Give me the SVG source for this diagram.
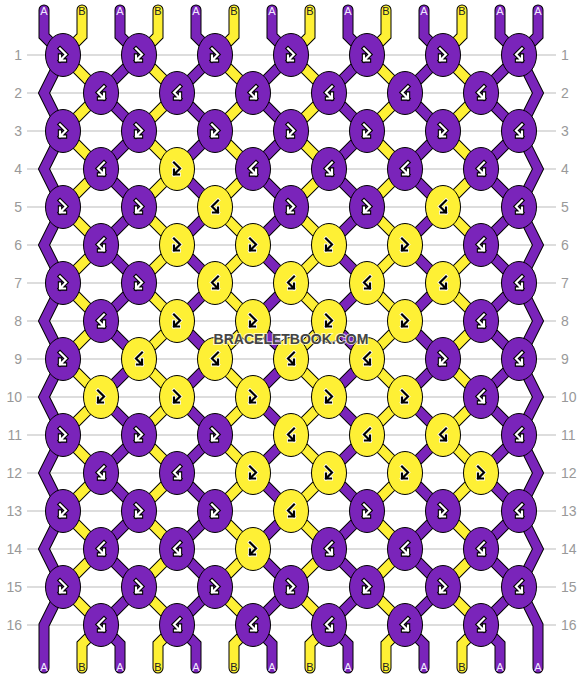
<svg xmlns="http://www.w3.org/2000/svg" xmlns:xlink="http://www.w3.org/1999/xlink" width="582" height="680" viewBox="0 0 582 680">
<style>
.grid{stroke:#bbb;stroke-width:1}
.num{font-family:"Liberation Sans",Arial,sans-serif;font-size:14px;fill:#999}
.l{text-anchor:end}
.o{fill:none;stroke:#000;stroke-width:11;stroke-linejoin:miter;stroke-miterlimit:4;stroke-linecap:round}
.sp{fill:none;stroke:#7a24ba;stroke-width:9;stroke-linejoin:miter;stroke-miterlimit:4;stroke-linecap:round}
.sy{fill:none;stroke:#fef035;stroke-width:9;stroke-linejoin:miter;stroke-miterlimit:4;stroke-linecap:round}
.kp{fill:#7a24ba;stroke:#000;stroke-width:1}
.ky{fill:#fef035;stroke:#000;stroke-width:1}
.gob{fill:none;stroke:#000;stroke-width:4.4;stroke-linejoin:miter;stroke-linecap:square}
.giw{fill:none;stroke:#fff;stroke-width:2.2;stroke-linejoin:miter;stroke-linecap:square}
.gow{fill:none;stroke:#fff;stroke-width:3.8;stroke-linejoin:miter;stroke-linecap:square}
.gik{fill:none;stroke:#000;stroke-width:2.2;stroke-linejoin:miter;stroke-linecap:square}
.lab{font-family:"Liberation Sans",Arial,sans-serif;font-size:11px;text-anchor:middle}
.la{fill:#f2eaff}
.lb{fill:#222}
.wm{font-family:"Liberation Sans",Arial,sans-serif;font-size:14px;font-weight:bold;fill:#444;stroke:#fff;stroke-width:2;stroke-opacity:0.7;paint-order:stroke;text-anchor:middle}
</style>
<defs>
<path id="se" d="M0,10 V36 L19,55 L-19,93 L19,131 L-19,169 L19,207 L-19,245 L19,283 L-19,321 L19,359 L-19,397 L19,435 L-19,473 L19,511 L-19,549 L19,587 L-19,625 L0,644 V668"/>
<path id="so" d="M0,10 V36 L-19,55 L19,93 L-19,131 L19,169 L-19,207 L19,245 L-19,283 L19,321 L-19,359 L19,397 L-19,435 L19,473 L-19,511 L19,549 L-19,587 L19,625 L0,644 V668"/>
<path id="sl" d="M0,10 V36 L19,55 L0,93 L19,131 L0,169 L19,207 L0,245 L19,283 L0,321 L19,359 L0,397 L19,435 L0,473 L19,511 L0,549 L19,587 L0,625 V668"/>
<path id="sr" d="M0,10 V36 L-19,55 L0,93 L-19,131 L0,169 L-19,207 L0,245 L-19,283 L0,321 L-19,359 L0,397 L-19,435 L0,473 L-19,511 L0,549 L-19,587 L0,625 V668"/>
<path id="fb" d="M-3,-6.5 L3,-0.5 L-3,5.5 M-3,0.5 L-3,5.5 L2,5.5"/>
<path id="bf" d="M3,-6.5 L-3,-0.5 L3,5.5 M3,0.5 L3,5.5 L-2,5.5"/>
<g id="fw"><use xlink:href="#fb" class="gob"/><use xlink:href="#fb" class="giw"/></g>
<g id="bw"><use xlink:href="#bf" class="gob"/><use xlink:href="#bf" class="giw"/></g>
<g id="fk"><use xlink:href="#fb" class="gow"/><use xlink:href="#fb" class="gik"/></g>
<g id="bk"><use xlink:href="#bf" class="gow"/><use xlink:href="#bf" class="gik"/></g>
</defs>
<rect width="582" height="680" fill="#fff"/>
<g id="grid">
<line class="grid" x1="27" y1="55" x2="556" y2="55"/>
<line class="grid" x1="27" y1="93" x2="556" y2="93"/>
<line class="grid" x1="27" y1="131" x2="556" y2="131"/>
<line class="grid" x1="27" y1="169" x2="556" y2="169"/>
<line class="grid" x1="27" y1="207" x2="556" y2="207"/>
<line class="grid" x1="27" y1="245" x2="556" y2="245"/>
<line class="grid" x1="27" y1="283" x2="556" y2="283"/>
<line class="grid" x1="27" y1="321" x2="556" y2="321"/>
<line class="grid" x1="27" y1="359" x2="556" y2="359"/>
<line class="grid" x1="27" y1="397" x2="556" y2="397"/>
<line class="grid" x1="27" y1="435" x2="556" y2="435"/>
<line class="grid" x1="27" y1="473" x2="556" y2="473"/>
<line class="grid" x1="27" y1="511" x2="556" y2="511"/>
<line class="grid" x1="27" y1="549" x2="556" y2="549"/>
<line class="grid" x1="27" y1="587" x2="556" y2="587"/>
<line class="grid" x1="27" y1="625" x2="556" y2="625"/>
</g>
<g id="row-numbers">
<text class="num l" x="22" y="60">1</text><text class="num" x="561" y="60">1</text>
<text class="num l" x="22" y="98">2</text><text class="num" x="561" y="98">2</text>
<text class="num l" x="22" y="136">3</text><text class="num" x="561" y="136">3</text>
<text class="num l" x="22" y="174">4</text><text class="num" x="561" y="174">4</text>
<text class="num l" x="22" y="212">5</text><text class="num" x="561" y="212">5</text>
<text class="num l" x="22" y="250">6</text><text class="num" x="561" y="250">6</text>
<text class="num l" x="22" y="288">7</text><text class="num" x="561" y="288">7</text>
<text class="num l" x="22" y="326">8</text><text class="num" x="561" y="326">8</text>
<text class="num l" x="22" y="364">9</text><text class="num" x="561" y="364">9</text>
<text class="num l" x="22" y="402">10</text><text class="num" x="561" y="402">10</text>
<text class="num l" x="22" y="440">11</text><text class="num" x="561" y="440">11</text>
<text class="num l" x="22" y="478">12</text><text class="num" x="561" y="478">12</text>
<text class="num l" x="22" y="516">13</text><text class="num" x="561" y="516">13</text>
<text class="num l" x="22" y="554">14</text><text class="num" x="561" y="554">14</text>
<text class="num l" x="22" y="592">15</text><text class="num" x="561" y="592">15</text>
<text class="num l" x="22" y="630">16</text><text class="num" x="561" y="630">16</text>
</g>
<g id="connectors">
<g id="strand-outlines">
<use xlink:href="#sl" x="44" class="o"/>
<use xlink:href="#so" x="82" class="o"/>
<use xlink:href="#se" x="120" class="o"/>
<use xlink:href="#so" x="158" class="o"/>
<use xlink:href="#se" x="196" class="o"/>
<use xlink:href="#so" x="234" class="o"/>
<use xlink:href="#se" x="272" class="o"/>
<use xlink:href="#so" x="310" class="o"/>
<use xlink:href="#se" x="348" class="o"/>
<use xlink:href="#so" x="386" class="o"/>
<use xlink:href="#se" x="424" class="o"/>
<use xlink:href="#so" x="462" class="o"/>
<use xlink:href="#se" x="500" class="o"/>
<use xlink:href="#sr" x="538" class="o"/>
</g>
<g id="strand-colours">
<use xlink:href="#sl" x="44" class="sp"/>
<use xlink:href="#so" x="82" class="sy"/>
<use xlink:href="#se" x="120" class="sp"/>
<use xlink:href="#so" x="158" class="sy"/>
<use xlink:href="#se" x="196" class="sp"/>
<use xlink:href="#so" x="234" class="sy"/>
<use xlink:href="#se" x="272" class="sp"/>
<use xlink:href="#so" x="310" class="sy"/>
<use xlink:href="#se" x="348" class="sp"/>
<use xlink:href="#so" x="386" class="sy"/>
<use xlink:href="#se" x="424" class="sp"/>
<use xlink:href="#so" x="462" class="sy"/>
<use xlink:href="#se" x="500" class="sp"/>
<use xlink:href="#sr" x="538" class="sp"/>
</g>
</g>
<g id="knots">
<!-- row 1 -->
<g id="k1-1"><ellipse class="kp" cx="63" cy="55" rx="17.5" ry="21.5"/><use xlink:href="#fw" x="63" y="55"/></g>
<g id="k1-2"><ellipse class="kp" cx="139" cy="55" rx="17.5" ry="21.5"/><use xlink:href="#fw" x="139" y="55"/></g>
<g id="k1-3"><ellipse class="kp" cx="215" cy="55" rx="17.5" ry="21.5"/><use xlink:href="#fw" x="215" y="55"/></g>
<g id="k1-4"><ellipse class="kp" cx="291" cy="55" rx="17.5" ry="21.5"/><use xlink:href="#fw" x="291" y="55"/></g>
<g id="k1-5"><ellipse class="kp" cx="367" cy="55" rx="17.5" ry="21.5"/><use xlink:href="#fw" x="367" y="55"/></g>
<g id="k1-6"><ellipse class="kp" cx="443" cy="55" rx="17.5" ry="21.5"/><use xlink:href="#fw" x="443" y="55"/></g>
<g id="k1-7"><ellipse class="kp" cx="519" cy="55" rx="17.5" ry="21.5"/><use xlink:href="#bw" x="519" y="55"/></g>
<!-- row 2 -->
<g id="k2-1"><ellipse class="kp" cx="101" cy="93" rx="17.5" ry="21.5"/><use xlink:href="#bw" x="101" y="93"/></g>
<g id="k2-2"><ellipse class="kp" cx="177" cy="93" rx="17.5" ry="21.5"/><use xlink:href="#bw" x="177" y="93"/></g>
<g id="k2-3"><ellipse class="kp" cx="253" cy="93" rx="17.5" ry="21.5"/><use xlink:href="#bw" x="253" y="93"/></g>
<g id="k2-4"><ellipse class="kp" cx="329" cy="93" rx="17.5" ry="21.5"/><use xlink:href="#bw" x="329" y="93"/></g>
<g id="k2-5"><ellipse class="kp" cx="405" cy="93" rx="17.5" ry="21.5"/><use xlink:href="#bw" x="405" y="93"/></g>
<g id="k2-6"><ellipse class="kp" cx="481" cy="93" rx="17.5" ry="21.5"/><use xlink:href="#bw" x="481" y="93"/></g>
<!-- row 3 -->
<g id="k3-1"><ellipse class="kp" cx="63" cy="131" rx="17.5" ry="21.5"/><use xlink:href="#fw" x="63" y="131"/></g>
<g id="k3-2"><ellipse class="kp" cx="139" cy="131" rx="17.5" ry="21.5"/><use xlink:href="#fw" x="139" y="131"/></g>
<g id="k3-3"><ellipse class="kp" cx="215" cy="131" rx="17.5" ry="21.5"/><use xlink:href="#fw" x="215" y="131"/></g>
<g id="k3-4"><ellipse class="kp" cx="291" cy="131" rx="17.5" ry="21.5"/><use xlink:href="#fw" x="291" y="131"/></g>
<g id="k3-5"><ellipse class="kp" cx="367" cy="131" rx="17.5" ry="21.5"/><use xlink:href="#fw" x="367" y="131"/></g>
<g id="k3-6"><ellipse class="kp" cx="443" cy="131" rx="17.5" ry="21.5"/><use xlink:href="#fw" x="443" y="131"/></g>
<g id="k3-7"><ellipse class="kp" cx="519" cy="131" rx="17.5" ry="21.5"/><use xlink:href="#bw" x="519" y="131"/></g>
<!-- row 4 -->
<g id="k4-1"><ellipse class="kp" cx="101" cy="169" rx="17.5" ry="21.5"/><use xlink:href="#bw" x="101" y="169"/></g>
<g id="k4-2"><ellipse class="ky" cx="177" cy="169" rx="17.5" ry="21.5"/><use xlink:href="#fk" x="177" y="169"/></g>
<g id="k4-3"><ellipse class="kp" cx="253" cy="169" rx="17.5" ry="21.5"/><use xlink:href="#bw" x="253" y="169"/></g>
<g id="k4-4"><ellipse class="kp" cx="329" cy="169" rx="17.5" ry="21.5"/><use xlink:href="#bw" x="329" y="169"/></g>
<g id="k4-5"><ellipse class="kp" cx="405" cy="169" rx="17.5" ry="21.5"/><use xlink:href="#bw" x="405" y="169"/></g>
<g id="k4-6"><ellipse class="kp" cx="481" cy="169" rx="17.5" ry="21.5"/><use xlink:href="#bw" x="481" y="169"/></g>
<!-- row 5 -->
<g id="k5-1"><ellipse class="kp" cx="63" cy="207" rx="17.5" ry="21.5"/><use xlink:href="#fw" x="63" y="207"/></g>
<g id="k5-2"><ellipse class="kp" cx="139" cy="207" rx="17.5" ry="21.5"/><use xlink:href="#fw" x="139" y="207"/></g>
<g id="k5-3"><ellipse class="ky" cx="215" cy="207" rx="17.5" ry="21.5"/><use xlink:href="#bk" x="215" y="207"/></g>
<g id="k5-4"><ellipse class="kp" cx="291" cy="207" rx="17.5" ry="21.5"/><use xlink:href="#fw" x="291" y="207"/></g>
<g id="k5-5"><ellipse class="kp" cx="367" cy="207" rx="17.5" ry="21.5"/><use xlink:href="#fw" x="367" y="207"/></g>
<g id="k5-6"><ellipse class="ky" cx="443" cy="207" rx="17.5" ry="21.5"/><use xlink:href="#bk" x="443" y="207"/></g>
<g id="k5-7"><ellipse class="kp" cx="519" cy="207" rx="17.5" ry="21.5"/><use xlink:href="#bw" x="519" y="207"/></g>
<!-- row 6 -->
<g id="k6-1"><ellipse class="kp" cx="101" cy="245" rx="17.5" ry="21.5"/><use xlink:href="#bw" x="101" y="245"/></g>
<g id="k6-2"><ellipse class="ky" cx="177" cy="245" rx="17.5" ry="21.5"/><use xlink:href="#fk" x="177" y="245"/></g>
<g id="k6-3"><ellipse class="ky" cx="253" cy="245" rx="17.5" ry="21.5"/><use xlink:href="#fk" x="253" y="245"/></g>
<g id="k6-4"><ellipse class="ky" cx="329" cy="245" rx="17.5" ry="21.5"/><use xlink:href="#fk" x="329" y="245"/></g>
<g id="k6-5"><ellipse class="ky" cx="405" cy="245" rx="17.5" ry="21.5"/><use xlink:href="#fk" x="405" y="245"/></g>
<g id="k6-6"><ellipse class="kp" cx="481" cy="245" rx="17.5" ry="21.5"/><use xlink:href="#bw" x="481" y="245"/></g>
<!-- row 7 -->
<g id="k7-1"><ellipse class="kp" cx="63" cy="283" rx="17.5" ry="21.5"/><use xlink:href="#fw" x="63" y="283"/></g>
<g id="k7-2"><ellipse class="kp" cx="139" cy="283" rx="17.5" ry="21.5"/><use xlink:href="#fw" x="139" y="283"/></g>
<g id="k7-3"><ellipse class="ky" cx="215" cy="283" rx="17.5" ry="21.5"/><use xlink:href="#bk" x="215" y="283"/></g>
<g id="k7-4"><ellipse class="ky" cx="291" cy="283" rx="17.5" ry="21.5"/><use xlink:href="#bk" x="291" y="283"/></g>
<g id="k7-5"><ellipse class="ky" cx="367" cy="283" rx="17.5" ry="21.5"/><use xlink:href="#bk" x="367" y="283"/></g>
<g id="k7-6"><ellipse class="ky" cx="443" cy="283" rx="17.5" ry="21.5"/><use xlink:href="#bk" x="443" y="283"/></g>
<g id="k7-7"><ellipse class="kp" cx="519" cy="283" rx="17.5" ry="21.5"/><use xlink:href="#bw" x="519" y="283"/></g>
<!-- row 8 -->
<g id="k8-1"><ellipse class="kp" cx="101" cy="321" rx="17.5" ry="21.5"/><use xlink:href="#bw" x="101" y="321"/></g>
<g id="k8-2"><ellipse class="ky" cx="177" cy="321" rx="17.5" ry="21.5"/><use xlink:href="#fk" x="177" y="321"/></g>
<g id="k8-3"><ellipse class="ky" cx="253" cy="321" rx="17.5" ry="21.5"/><use xlink:href="#fk" x="253" y="321"/></g>
<g id="k8-4"><ellipse class="ky" cx="329" cy="321" rx="17.5" ry="21.5"/><use xlink:href="#fk" x="329" y="321"/></g>
<g id="k8-5"><ellipse class="ky" cx="405" cy="321" rx="17.5" ry="21.5"/><use xlink:href="#fk" x="405" y="321"/></g>
<g id="k8-6"><ellipse class="kp" cx="481" cy="321" rx="17.5" ry="21.5"/><use xlink:href="#bw" x="481" y="321"/></g>
<!-- row 9 -->
<g id="k9-1"><ellipse class="kp" cx="63" cy="359" rx="17.5" ry="21.5"/><use xlink:href="#fw" x="63" y="359"/></g>
<g id="k9-2"><ellipse class="ky" cx="139" cy="359" rx="17.5" ry="21.5"/><use xlink:href="#bk" x="139" y="359"/></g>
<g id="k9-3"><ellipse class="ky" cx="215" cy="359" rx="17.5" ry="21.5"/><use xlink:href="#bk" x="215" y="359"/></g>
<g id="k9-4"><ellipse class="ky" cx="291" cy="359" rx="17.5" ry="21.5"/><use xlink:href="#bk" x="291" y="359"/></g>
<g id="k9-5"><ellipse class="ky" cx="367" cy="359" rx="17.5" ry="21.5"/><use xlink:href="#bk" x="367" y="359"/></g>
<g id="k9-6"><ellipse class="kp" cx="443" cy="359" rx="17.5" ry="21.5"/><use xlink:href="#fw" x="443" y="359"/></g>
<g id="k9-7"><ellipse class="kp" cx="519" cy="359" rx="17.5" ry="21.5"/><use xlink:href="#bw" x="519" y="359"/></g>
<!-- row 10 -->
<g id="k10-1"><ellipse class="ky" cx="101" cy="397" rx="17.5" ry="21.5"/><use xlink:href="#fk" x="101" y="397"/></g>
<g id="k10-2"><ellipse class="ky" cx="177" cy="397" rx="17.5" ry="21.5"/><use xlink:href="#fk" x="177" y="397"/></g>
<g id="k10-3"><ellipse class="ky" cx="253" cy="397" rx="17.5" ry="21.5"/><use xlink:href="#fk" x="253" y="397"/></g>
<g id="k10-4"><ellipse class="ky" cx="329" cy="397" rx="17.5" ry="21.5"/><use xlink:href="#fk" x="329" y="397"/></g>
<g id="k10-5"><ellipse class="ky" cx="405" cy="397" rx="17.5" ry="21.5"/><use xlink:href="#fk" x="405" y="397"/></g>
<g id="k10-6"><ellipse class="kp" cx="481" cy="397" rx="17.5" ry="21.5"/><use xlink:href="#bw" x="481" y="397"/></g>
<!-- row 11 -->
<g id="k11-1"><ellipse class="kp" cx="63" cy="435" rx="17.5" ry="21.5"/><use xlink:href="#fw" x="63" y="435"/></g>
<g id="k11-2"><ellipse class="kp" cx="139" cy="435" rx="17.5" ry="21.5"/><use xlink:href="#fw" x="139" y="435"/></g>
<g id="k11-3"><ellipse class="kp" cx="215" cy="435" rx="17.5" ry="21.5"/><use xlink:href="#fw" x="215" y="435"/></g>
<g id="k11-4"><ellipse class="ky" cx="291" cy="435" rx="17.5" ry="21.5"/><use xlink:href="#bk" x="291" y="435"/></g>
<g id="k11-5"><ellipse class="ky" cx="367" cy="435" rx="17.5" ry="21.5"/><use xlink:href="#bk" x="367" y="435"/></g>
<g id="k11-6"><ellipse class="ky" cx="443" cy="435" rx="17.5" ry="21.5"/><use xlink:href="#bk" x="443" y="435"/></g>
<g id="k11-7"><ellipse class="kp" cx="519" cy="435" rx="17.5" ry="21.5"/><use xlink:href="#bw" x="519" y="435"/></g>
<!-- row 12 -->
<g id="k12-1"><ellipse class="kp" cx="101" cy="473" rx="17.5" ry="21.5"/><use xlink:href="#bw" x="101" y="473"/></g>
<g id="k12-2"><ellipse class="kp" cx="177" cy="473" rx="17.5" ry="21.5"/><use xlink:href="#bw" x="177" y="473"/></g>
<g id="k12-3"><ellipse class="ky" cx="253" cy="473" rx="17.5" ry="21.5"/><use xlink:href="#fk" x="253" y="473"/></g>
<g id="k12-4"><ellipse class="ky" cx="329" cy="473" rx="17.5" ry="21.5"/><use xlink:href="#fk" x="329" y="473"/></g>
<g id="k12-5"><ellipse class="ky" cx="405" cy="473" rx="17.5" ry="21.5"/><use xlink:href="#fk" x="405" y="473"/></g>
<g id="k12-6"><ellipse class="ky" cx="481" cy="473" rx="17.5" ry="21.5"/><use xlink:href="#fk" x="481" y="473"/></g>
<!-- row 13 -->
<g id="k13-1"><ellipse class="kp" cx="63" cy="511" rx="17.5" ry="21.5"/><use xlink:href="#fw" x="63" y="511"/></g>
<g id="k13-2"><ellipse class="kp" cx="139" cy="511" rx="17.5" ry="21.5"/><use xlink:href="#fw" x="139" y="511"/></g>
<g id="k13-3"><ellipse class="kp" cx="215" cy="511" rx="17.5" ry="21.5"/><use xlink:href="#fw" x="215" y="511"/></g>
<g id="k13-4"><ellipse class="ky" cx="291" cy="511" rx="17.5" ry="21.5"/><use xlink:href="#bk" x="291" y="511"/></g>
<g id="k13-5"><ellipse class="kp" cx="367" cy="511" rx="17.5" ry="21.5"/><use xlink:href="#fw" x="367" y="511"/></g>
<g id="k13-6"><ellipse class="kp" cx="443" cy="511" rx="17.5" ry="21.5"/><use xlink:href="#fw" x="443" y="511"/></g>
<g id="k13-7"><ellipse class="kp" cx="519" cy="511" rx="17.5" ry="21.5"/><use xlink:href="#bw" x="519" y="511"/></g>
<!-- row 14 -->
<g id="k14-1"><ellipse class="kp" cx="101" cy="549" rx="17.5" ry="21.5"/><use xlink:href="#bw" x="101" y="549"/></g>
<g id="k14-2"><ellipse class="kp" cx="177" cy="549" rx="17.5" ry="21.5"/><use xlink:href="#bw" x="177" y="549"/></g>
<g id="k14-3"><ellipse class="ky" cx="253" cy="549" rx="17.5" ry="21.5"/><use xlink:href="#fk" x="253" y="549"/></g>
<g id="k14-4"><ellipse class="kp" cx="329" cy="549" rx="17.5" ry="21.5"/><use xlink:href="#bw" x="329" y="549"/></g>
<g id="k14-5"><ellipse class="kp" cx="405" cy="549" rx="17.5" ry="21.5"/><use xlink:href="#bw" x="405" y="549"/></g>
<g id="k14-6"><ellipse class="kp" cx="481" cy="549" rx="17.5" ry="21.5"/><use xlink:href="#bw" x="481" y="549"/></g>
<!-- row 15 -->
<g id="k15-1"><ellipse class="kp" cx="63" cy="587" rx="17.5" ry="21.5"/><use xlink:href="#fw" x="63" y="587"/></g>
<g id="k15-2"><ellipse class="kp" cx="139" cy="587" rx="17.5" ry="21.5"/><use xlink:href="#fw" x="139" y="587"/></g>
<g id="k15-3"><ellipse class="kp" cx="215" cy="587" rx="17.5" ry="21.5"/><use xlink:href="#fw" x="215" y="587"/></g>
<g id="k15-4"><ellipse class="kp" cx="291" cy="587" rx="17.5" ry="21.5"/><use xlink:href="#fw" x="291" y="587"/></g>
<g id="k15-5"><ellipse class="kp" cx="367" cy="587" rx="17.5" ry="21.5"/><use xlink:href="#fw" x="367" y="587"/></g>
<g id="k15-6"><ellipse class="kp" cx="443" cy="587" rx="17.5" ry="21.5"/><use xlink:href="#fw" x="443" y="587"/></g>
<g id="k15-7"><ellipse class="kp" cx="519" cy="587" rx="17.5" ry="21.5"/><use xlink:href="#bw" x="519" y="587"/></g>
<!-- row 16 -->
<g id="k16-1"><ellipse class="kp" cx="101" cy="625" rx="17.5" ry="21.5"/><use xlink:href="#bw" x="101" y="625"/></g>
<g id="k16-2"><ellipse class="kp" cx="177" cy="625" rx="17.5" ry="21.5"/><use xlink:href="#bw" x="177" y="625"/></g>
<g id="k16-3"><ellipse class="kp" cx="253" cy="625" rx="17.5" ry="21.5"/><use xlink:href="#bw" x="253" y="625"/></g>
<g id="k16-4"><ellipse class="kp" cx="329" cy="625" rx="17.5" ry="21.5"/><use xlink:href="#bw" x="329" y="625"/></g>
<g id="k16-5"><ellipse class="kp" cx="405" cy="625" rx="17.5" ry="21.5"/><use xlink:href="#bw" x="405" y="625"/></g>
<g id="k16-6"><ellipse class="kp" cx="481" cy="625" rx="17.5" ry="21.5"/><use xlink:href="#bw" x="481" y="625"/></g>
</g>
<g id="strand-labels">
<text class="lab la" x="44" y="15">A</text><text class="lab lb" x="82" y="15">B</text>
<text class="lab la" x="120" y="15">A</text><text class="lab lb" x="158" y="15">B</text>
<text class="lab la" x="196" y="15">A</text><text class="lab lb" x="234" y="15">B</text>
<text class="lab la" x="272" y="15">A</text><text class="lab lb" x="310" y="15">B</text>
<text class="lab la" x="348" y="15">A</text><text class="lab lb" x="386" y="15">B</text>
<text class="lab la" x="424" y="15">A</text><text class="lab lb" x="462" y="15">B</text>
<text class="lab la" x="500" y="15">A</text><text class="lab la" x="538" y="15">A</text>
<text class="lab la" x="44" y="671">A</text><text class="lab lb" x="82" y="671">B</text>
<text class="lab la" x="120" y="671">A</text><text class="lab lb" x="158" y="671">B</text>
<text class="lab la" x="196" y="671">A</text><text class="lab lb" x="234" y="671">B</text>
<text class="lab la" x="272" y="671">A</text><text class="lab lb" x="310" y="671">B</text>
<text class="lab la" x="348" y="671">A</text><text class="lab lb" x="386" y="671">B</text>
<text class="lab la" x="424" y="671">A</text><text class="lab lb" x="462" y="671">B</text>
<text class="lab la" x="500" y="671">A</text><text class="lab la" x="538" y="671">A</text>
</g>
<text class="wm" x="291" y="344">BRACELETBOOK.COM</text>
</svg>
